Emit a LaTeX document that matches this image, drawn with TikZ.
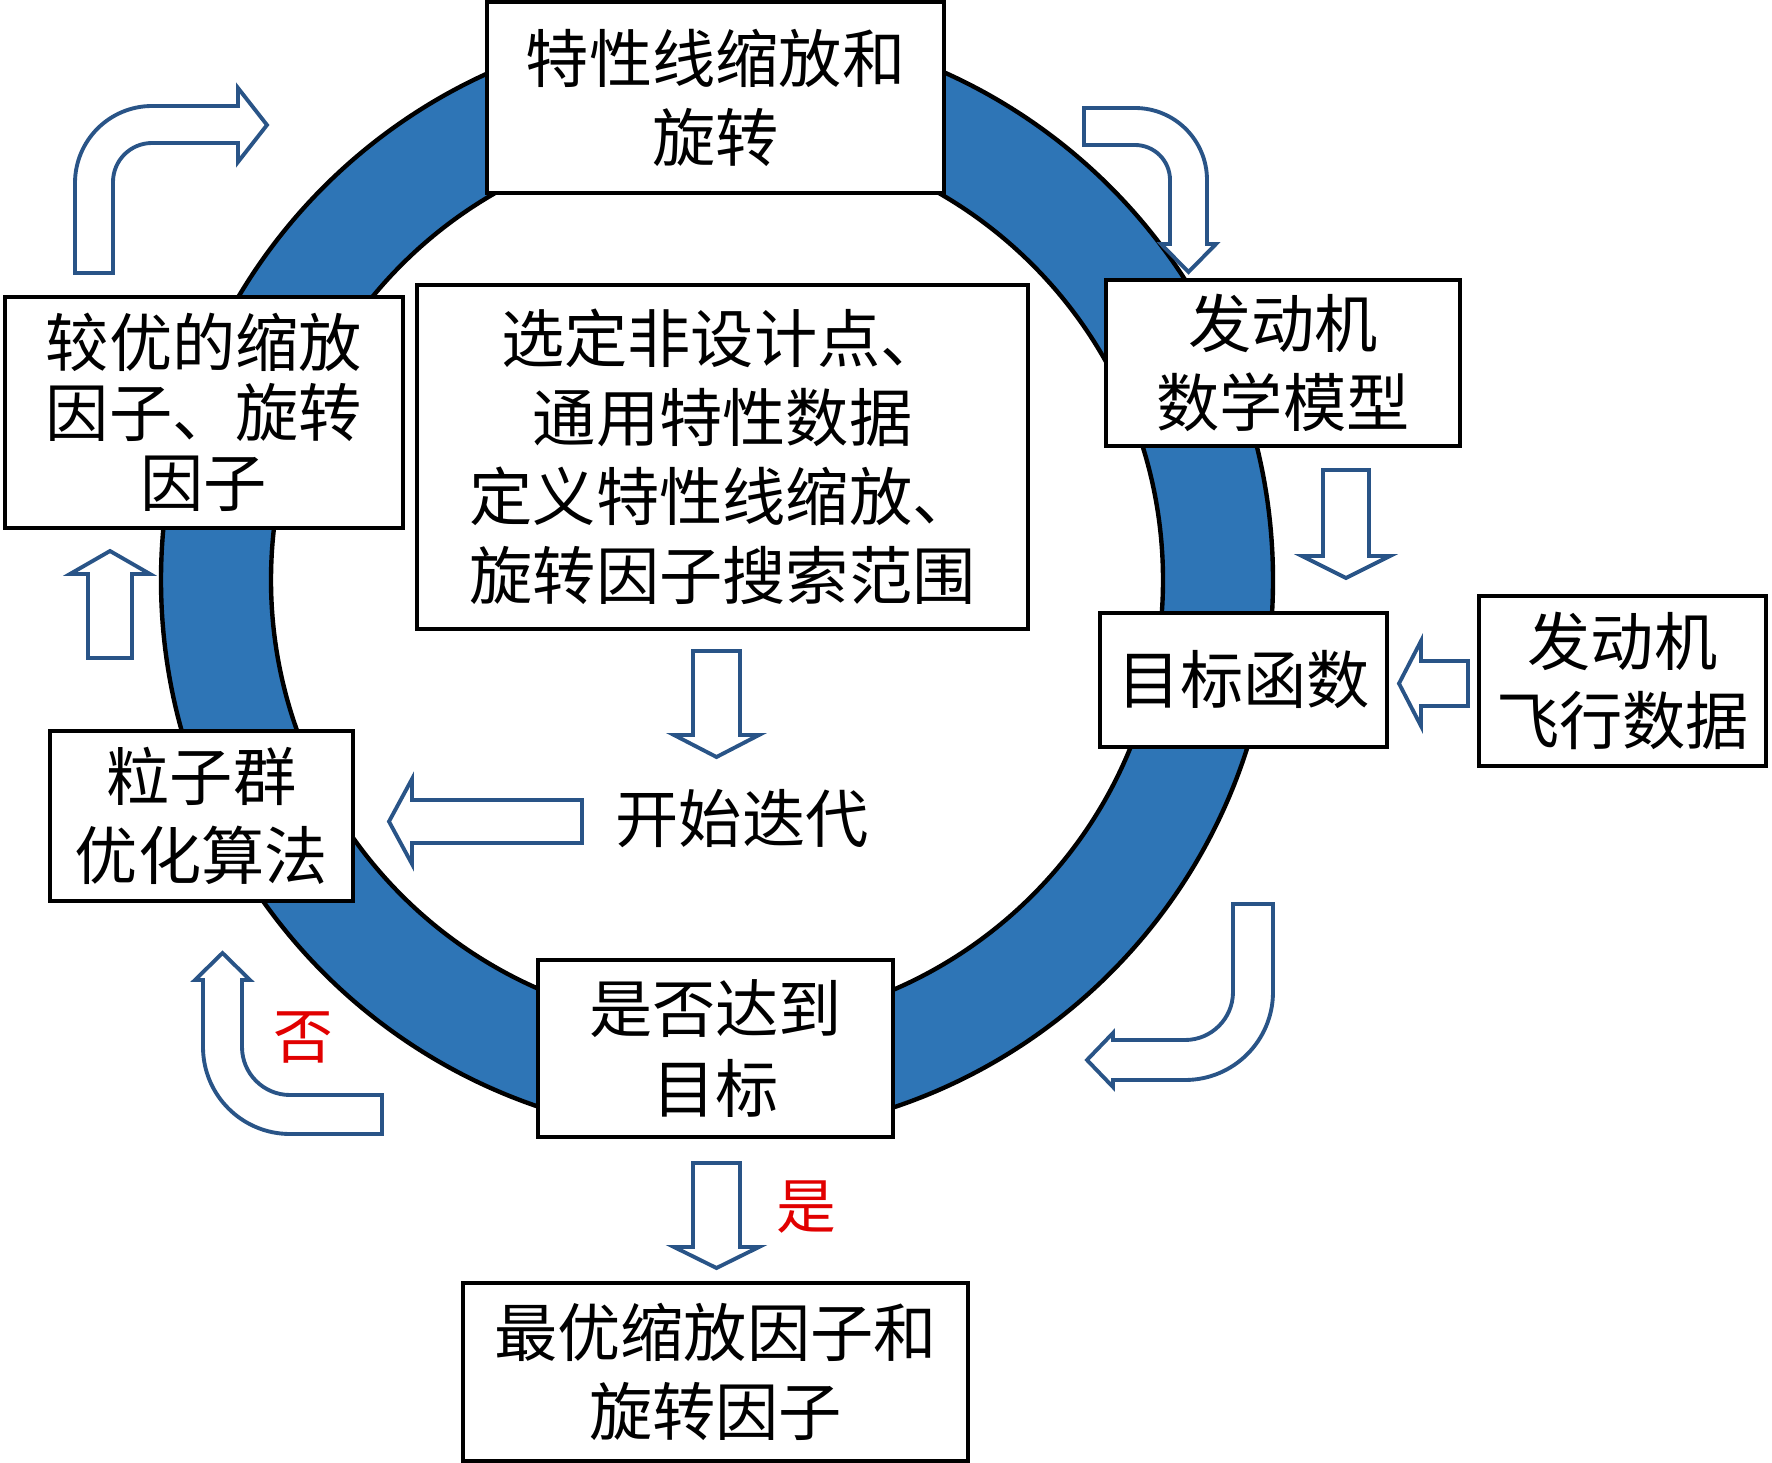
\documentclass[tikz,border=0pt]{standalone}
\usepackage{fontspec}
\setmainfont{Noto Sans CJK SC}
\definecolor{ringblue}{RGB}{46,117,182}
\definecolor{arrowblue}{RGB}{41,84,135}
\definecolor{labelred}{RGB}{225,0,0}
\begin{document}
\begin{tikzpicture}[x=0.02cm,y=-0.02cm,
  box/.style={draw=black, line width=2.3pt, fill=white, inner sep=0pt, align=center, font=\fontsize{36}{45}\selectfont},
  plaintext/.style={inner sep=0pt, font=\fontsize{36}{45}\selectfont},
  redtext/.style={inner sep=0pt, text=labelred, font=\fontsize{34}{40}\selectfont},
  blockarrow/.style={draw=arrowblue, line width=2.2pt, fill=white, line join=miter}]
\useasboundingbox (0,0) rectangle (1772,1463);
% ring
\path[fill=ringblue, even odd rule] (717,580) circle [radius=556] (717,580) circle [radius=446];
\draw[line width=2.5pt] (717,580) circle [radius=556];
\draw[line width=2.5pt] (717,580) circle [radius=446];

% boxes
\node[box, minimum width=9.14cm, minimum height=3.82cm] (scale) at (715.5,97.5) {特性线缩放和\\旋转};
\node[box, minimum width=7.08cm, minimum height=3.32cm] (model) at (1283,363) {发动机\\数学模型};
\node[box, minimum width=5.74cm, minimum height=2.68cm] (obj) at (1243.5,680) {目标函数};
\node[box, minimum width=5.74cm, minimum height=3.40cm] (flight) at (1622.5,681) {发动机\\飞行数据};
\node[box, minimum width=7.10cm, minimum height=3.54cm] (check) at (715.5,1048.5) {是否达到\\目标};
\node[box, minimum width=10.10cm, minimum height=3.56cm] (best) at (715.5,1372) {最优缩放因子和\\旋转因子};
\node[box, minimum width=6.06cm, minimum height=3.40cm] (pso) at (201.5,816) {粒子群\\优化算法};
\node[box, minimum width=7.96cm, minimum height=4.62cm, font=\fontsize{36}{40}\selectfont] (better) at (204,412.5) {较优的缩放\\因子、旋转\\因子};
\node[box, minimum width=12.22cm, minimum height=6.88cm] (init) at (722.5,457) {选定非设计点、\\通用特性数据\\定义特性线缩放、\\旋转因子搜索范围};
\node[plaintext] (start) at (742,819) {开始迭代};
\node[redtext] (no) at (303,1037) {否};
\node[redtext] (yes) at (806,1207) {是};

% straight block arrows
% init -> start (down)
\draw[blockarrow] (693,651) -- (740,651) -- (740,735) -- (759,735) -- (716.5,757) -- (674,735) -- (693,735) -- cycle;
% start -> pso (left)
\draw[blockarrow] (582,800) -- (582,843) -- (412,843) -- (412,864) -- (389,821.5) -- (412,779) -- (412,800) -- cycle;
% model -> obj (down)
\draw[blockarrow] (1323,470) -- (1369,470) -- (1369,556) -- (1390,556) -- (1346,578) -- (1302,556) -- (1323,556) -- cycle;
% flight -> obj (left)
\draw[blockarrow] (1468,661) -- (1468,706) -- (1421,706) -- (1421,726) -- (1399,683.5) -- (1421,641) -- (1421,661) -- cycle;
% pso -> better (up)
\draw[blockarrow] (88,658) -- (132,658) -- (132,574) -- (150,574) -- (110,551) -- (70,574) -- (88,574) -- cycle;

% curved block arrows
% top-left: better -> scale
\draw[blockarrow] (75,273) -- (75,183) arc[start angle=180, end angle=270, radius=77]
  -- (238,106) -- (238,88) -- (267,125) -- (238,162) -- (238,143) -- (152,143)
  arc[start angle=270, end angle=180, radius=39] -- (113,273) -- cycle;
% top-right: scale -> model
\draw[blockarrow] (1084,108) -- (1135,108) arc[start angle=270, end angle=360, radius=72]
  -- (1207,244) -- (1216,244) -- (1188.5,272) -- (1161,244) -- (1170,244) -- (1170,180)
  arc[start angle=0, end angle=-90, radius=35] -- (1084,145) -- cycle;
% bottom-right: obj -> check
\draw[blockarrow] (1233,904) -- (1233,992) arc[start angle=0, end angle=90, radius=48]
  -- (1113,1040) -- (1113,1033) -- (1087,1060) -- (1113,1087) -- (1113,1080) -- (1185,1080)
  arc[start angle=90, end angle=0, radius=88] -- (1273,904) -- cycle;
% bottom-left: check -> pso
\draw[blockarrow] (382,1095) -- (290,1095) arc[start angle=90, end angle=180, radius=48]
  -- (242,980) -- (250,980) -- (222.5,953) -- (195,980) -- (203,980) -- (203,1047)
  arc[start angle=180, end angle=90, radius=87] -- (382,1134) -- cycle;
% check -> best (down)
\draw[blockarrow] (693,1163) -- (740,1163) -- (740,1247) -- (759,1247) -- (716.5,1268) -- (674,1247) -- (693,1247) -- cycle;
\end{tikzpicture}
\end{document}
